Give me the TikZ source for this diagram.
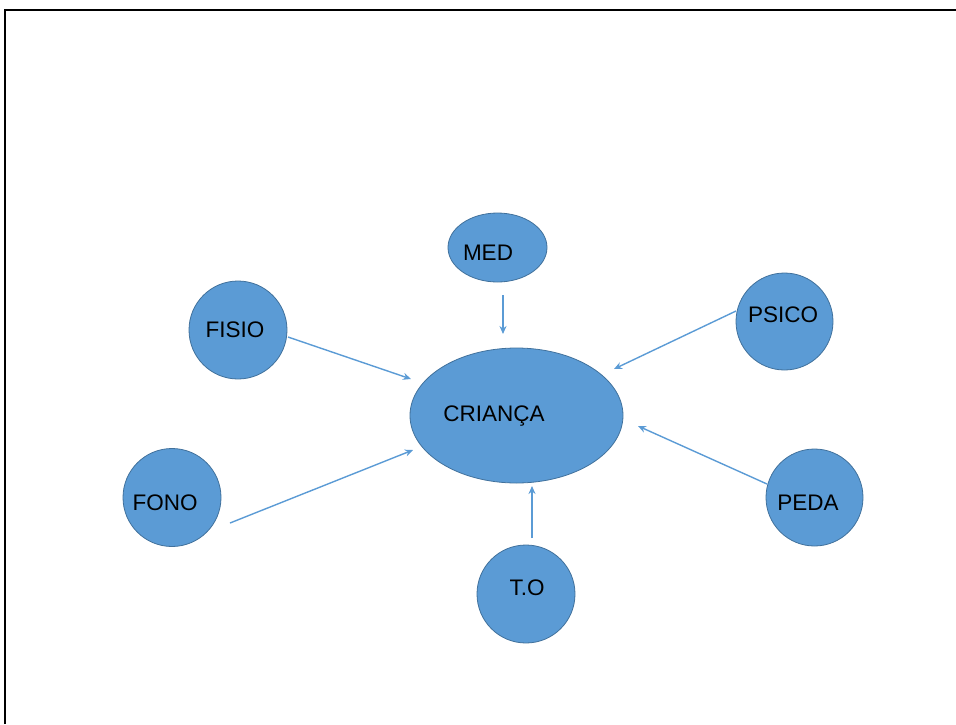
\documentclass[tikz,border=0pt]{standalone}
\usepackage{fontspec}
\setmainfont{Liberation Sans}
\usetikzlibrary{shapes.geometric,arrows.meta}
\definecolor{bubfill}{HTML}{5B9BD5}
\definecolor{bubedge}{HTML}{41719C}
\definecolor{linkblue}{HTML}{5B9BD5}
\tikzset{
  bub/.style={circle, fill=bubfill, draw=bubedge, line width=0.8pt, minimum size=98pt, inner sep=0pt},
  oval/.style={ellipse, fill=bubfill, draw=bubedge, line width=0.8pt, inner sep=0pt},
  lbl/.style={font=\fontsize{22.5}{26}\selectfont, text=black, inner sep=0pt, text depth=0pt},
  link/.style={draw=linkblue, line width=1.4pt, -{Stealth[length=8pt,width=7pt]}},
  frame/.style={line width=2pt, black}
}
\begin{document}
\begin{tikzpicture}[x=1pt, y=-1pt]
\useasboundingbox (0,0) rectangle (956,724);
% page frame: top and left edges only
\draw[frame] (5,724) -- (5,10) -- (956,10);

% central node
\node[oval, minimum width=213pt, minimum height=135pt,
      label={[lbl, xshift=-22.5pt, yshift=1.5pt]center:CRIANÇA}] (crianca) at (516.5,415.5) {};

% surrounding nodes
\node[oval, minimum width=99pt, minimum height=69pt,
      label={[lbl, xshift=-9.5pt, yshift=-5.5pt]center:MED}] (med) at (497.5,247.5) {};
\node[bub, label={[lbl, xshift=-3pt]center:FISIO}] (fisio) at (238,330) {};
\node[bub, label={[lbl, xshift=-7pt, yshift=-5.5pt]center:FONO}] (fono) at (172,497.5) {};
\node[bub, minimum size=97pt, label={[lbl, xshift=-1.5pt, yshift=6.5pt]center:PSICO}] (psico) at (784.5,321.5) {};
\node[bub, minimum size=97pt, label={[lbl, xshift=-6.5pt, yshift=-5.5pt]center:PEDA}] (peda) at (814.5,497.5) {};
\node[bub, label={[lbl, xshift=1pt, yshift=6pt]center:T.O}] (to) at (526,594) {};

% arrow end points (the arrows stop short of the nodes)
\coordinate (medA) at (503,295);   \coordinate (medB) at (503,334);
\coordinate (fisA) at (288,337);   \coordinate (fisB) at (411,379);
\coordinate (fonA) at (230,523);   \coordinate (fonB) at (413,450);
\coordinate (psiA) at (736,311);   \coordinate (psiB) at (614,369);
\coordinate (pedA) at (767,484);   \coordinate (pedB) at (638,426);
\coordinate (toA)  at (532,538);   \coordinate (toB)  at (532,486);

\draw[link] (medA) -- (medB);
\draw[link] (fisA) -- (fisB);
\draw[link] (fonA) -- (fonB);
\draw[link] (psiA) -- (psiB);
\draw[link] (pedA) -- (pedB);
\draw[link] (toA) -- (toB);
\end{tikzpicture}
\end{document}
